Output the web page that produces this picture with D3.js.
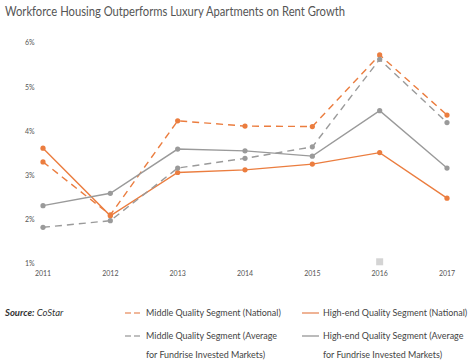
<!DOCTYPE html>
<html>
<head>
<meta charset="utf-8">
<script src="https://cdn.jsdelivr.net/npm/d3@7"></script>
<style>
  body { margin: 0; background: #fff; }
  svg { display: block; font-family: Lato, 'Open Sans', sans-serif; }
</style>
</head>
<body>
<svg id="chart" width="471" height="360"></svg>
<script>
// years on the x axis
const years = [2011, 2012, 2013, 2014, 2015, 2016, 2017]
const yTicks = [1, 2, 3, 4, 5, 6]

// rent growth, percent
const middleNational = [3.31, 2.11, 4.24, 4.12, 4.11, 5.73, 4.37]
const highNational = [3.62, 2.09, 3.07, 3.13, 3.26, 3.52, 2.49]
const middleFundrise = [1.83, 1.98, 3.17, 3.39, 3.65, 5.63, 4.20]
const highFundrise = [2.32, 2.60, 3.60, 3.56, 3.44, 4.47, 3.17]

const orange = '#eb7d3f'
const gray = '#9a9a9a'

const series = [
  { name: 'Middle Quality Segment (National)', values: middleNational, color: orange, dash: '7,5' },
  { name: 'High-end Quality Segment (National)', values: highNational, color: orange, dash: null },
  { name: 'Middle Quality Segment (Average|for Fundrise Invested Markets)', values: middleFundrise, color: gray, dash: '7,5' },
  { name: 'High-end Quality Segment (Average|for Fundrise Invested Markets)', values: highFundrise, color: gray, dash: null }
]

const svg = d3.select('#chart')

const x = d3.scalePoint()
  .domain(years)
  .range([43, 447])

const y = d3.scaleLinear()
  .domain([1, 6])
  .range([264, 43])

// title
svg.append('text')
  .attr('x', 5)
  .attr('y', 16)
  .attr('fill', '#555')
  .attr('font-size', 13)
  .attr('textLength', 340)
  .attr('lengthAdjust', 'spacingAndGlyphs')
  .text('Workforce Housing Outperforms Luxury Apartments on Rent Growth')

// y axis labels
svg.append('g')
  .attr('font-size', 7)
  .attr('fill', '#555')
  .selectAll('text')
  .data(yTicks)
  .join('text')
    .attr('x', 25)
    .attr('y', d => y(d))
    .attr('dy', '0.35em')
    .text(d => d + '%')

// x axis labels
svg.append('g')
  .attr('font-size', 7)
  .attr('fill', '#555')
  .attr('text-anchor', 'middle')
  .selectAll('text')
  .data(years)
  .join('text')
    .attr('x', d => x(d))
    .attr('y', 276)
    .text(d => d)

// little grey box above 2016
svg.append('rect')
  .attr('x', x(2016) - 3.5)
  .attr('y', y(1.05) - 3.5)
  .attr('width', 7)
  .attr('height', 7)
  .attr('fill', '#d4d4d4')

const line = d3.line()
  .x((d, i) => x(years[i]))
  .y(d => y(d))

const g = svg.append('g')
  .selectAll('g')
  .data(series)
  .join('g')

g.append('path')
  .attr('d', d => line(d.values))
  .attr('fill', 'none')
  .attr('stroke', d => d.color)
  .attr('stroke-width', 1.4)
  .attr('stroke-dasharray', d => d.dash)

g.selectAll('circle')
  .data(d => d.values.map(v => ({ v, color: d.color })))
  .join('circle')
    .attr('cx', (d, i) => x(years[i]))
    .attr('cy', d => y(d.v))
    .attr('r', 2.6)
    .attr('fill', d => d.color)

// source
const src = svg.append('text')
  .attr('x', 5)
  .attr('y', 316)
  .attr('font-size', 9.5)
  .attr('font-style', 'italic')
  .attr('fill', '#333')
src.append('tspan').attr('font-weight', 'bold').text('Source:')
src.append('tspan').text(' CoStar')

// legend: size the font so "Middle Quality Segment (National)" is ~135px wide
const probe = svg.append('text').attr('font-size', 10).text(series[0].name)
const legendFont = 10 * 135 / probe.node().getComputedTextLength()
probe.remove()

const legendPos = [
  { lx: 125, ly: 313 },
  { lx: 302, ly: 313 },
  { lx: 125, ly: 336 },
  { lx: 302, ly: 336 }
]

const legend = svg.append('g')
  .selectAll('g')
  .data(series)
  .join('g')
    .attr('transform', (d, i) => `translate(${legendPos[i].lx},${legendPos[i].ly})`)

legend.append('line')
  .attr('x1', 0)
  .attr('x2', 17)
  .attr('stroke', d => d.color === orange ? '#eba07a' : '#aaa')
  .attr('stroke-width', 1.6)
  .attr('stroke-dasharray', d => d.dash ? '6,3' : null)

legend.append('text')
  .attr('font-size', legendFont)
  .attr('fill', '#444')
  .selectAll('tspan')
  .data(d => d.name.split('|'))
  .join('tspan')
    .attr('x', 21)
    .attr('y', (d, i) => i * 19)
    .attr('dy', '0.35em')
    .text(d => d)
</script>
</body>
</html>
